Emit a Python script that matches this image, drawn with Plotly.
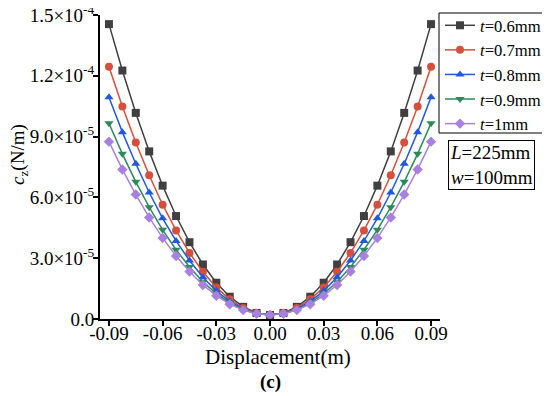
import plotly.graph_objects as go

# Displacement (m)
x_vals = [-0.09, -0.0825, -0.075, -0.0675, -0.06, -0.0525, -0.045, -0.0375, -0.03, -0.0225, -0.015, -0.0075,
          0.0, 0.0075, 0.015, 0.0225, 0.03, 0.0375, 0.045, 0.0525, 0.06, 0.0675, 0.075, 0.0825, 0.09]

# c_z values in units of 1e-5 N/m (one half, mirrored below)
half_06 = [14.55, 12.26, 10.17, 8.27, 6.58, 5.08, 3.79, 2.69, 1.79, 1.10, 0.60, 0.30, 0.20]
half_07 = [12.45, 10.49, 8.71, 7.09, 5.64, 4.37, 3.26, 2.33, 1.56, 0.97, 0.54, 0.29, 0.20]
half_08 = [10.94, 9.22, 7.66, 6.24, 4.97, 3.85, 2.89, 2.06, 1.39, 0.87, 0.50, 0.27, 0.20]
half_09 = [9.66, 8.15, 6.77, 5.52, 4.40, 3.42, 2.57, 1.84, 1.25, 0.79, 0.46, 0.27, 0.20]
half_10 = [8.75, 7.38, 6.14, 5.01, 4.00, 3.11, 2.34, 1.68, 1.15, 0.73, 0.44, 0.26, 0.20]

series_names = ["<i>t</i>=0.6mm", "<i>t</i>=0.7mm", "<i>t</i>=0.8mm", "<i>t</i>=0.9mm", "<i>t</i>=1mm"]
halves = [half_06, half_07, half_08, half_09, half_10]
colors = ["#404040", "#d4503c", "#2058e0", "#2a8a5a", "#a880e0"]
symbols = ["square", "circle", "triangle-up", "triangle-down", "diamond"]

y_tickvals = [0, 3e-5, 6e-5, 9e-5, 1.2e-4, 1.5e-4]
y_ticktext = ["0.0", "3.0×10<sup>-5</sup>", "6.0×10<sup>-5</sup>", "9.0×10<sup>-5</sup>",
              "1.2×10<sup>-4</sup>", "1.5×10<sup>-4</sup>"]
x_tickvals = [-0.09, -0.06, -0.03, 0.0, 0.03, 0.06, 0.09]
x_ticktext = ["-0.09", "-0.06", "-0.03", "0.00", "0.03", "0.06", "0.09"]

FONT = "Liberation Serif"
FS = 19

# plot area in figure pixels (page shows figure offset by 8px)
PL, PR, PT, PB = 92, 432, 7, 311
W, H = 550, 396


def px(xp):
    return (xp - PL) / (PR - PL)


def py(yp):
    return (PB - yp) / (PB - PT)


fig = go.Figure()
for name, half, col, sym in zip(series_names, halves, colors, symbols):
    full = half + half[-2::-1]
    yv = [v * 1e-5 for v in full]
    fig.add_trace(go.Scatter(
        x=x_vals, y=yv, mode="lines+markers", name=name,
        line=dict(color=col, width=1.5),
        marker=dict(symbol=sym, size=8, color=col),
    ))

fig.update_layout(
    template="none",
    width=W, height=H,
    margin=dict(l=PL, r=W - PR, t=PT, b=H - PB, autoexpand=False),
    paper_bgcolor="white", plot_bgcolor="white",
    font=dict(family=FONT, size=FS, color="black"),
    showlegend=True,
    legend=dict(
        xref="container", yref="container",
        x=538 / W, y=1 + 4 / H, xanchor="right", yanchor="top",
        borderwidth=0, bgcolor="rgba(0,0,0,0)",
        font=dict(family=FONT, size=16.6), tracegroupgap=0,
        itemwidth=30,
    ),
    xaxis=dict(
        range=[-0.095, 0.095], tickvals=x_tickvals, ticktext=x_ticktext,
        showgrid=False, zeroline=False, showline=True, linecolor="black", linewidth=2,
        ticks="outside", ticklen=5, tickwidth=1.5, tickcolor="black",
        tickfont=dict(family=FONT, size=FS), automargin=False, ticklabelstandoff=-9,
        ticklabeloverflow="allow",
    ),
    yaxis=dict(
        range=[0, 1.5e-4], tickvals=y_tickvals, ticktext=y_ticktext,
        showgrid=False, zeroline=False, showline=True, linecolor="black", linewidth=2,
        ticks="outside", ticklen=5, tickwidth=1.5, tickcolor="black",
        tickfont=dict(family=FONT, size=FS), automargin=False, ticklabelstandoff=-5,
        ticklabeloverflow="allow",
    ),
)

# legend frame
fig.add_shape(
    type="rect", xref="paper", yref="paper", layer="above",
    x0=px(431), x1=px(538), y0=py(125), y1=py(5),
    line=dict(color="black", width=1), fillcolor="rgba(255,255,255,0)",
)

# axis titles as annotations for precise placement
fig.add_annotation(
    xref="paper", yref="paper", x=px(11), y=py(147),
    xanchor="center", yanchor="middle", textangle=-90,
    text="<i>c</i><sub>z</sub>(N/m)", showarrow=False, font=dict(family=FONT, size=FS),
)
fig.add_annotation(
    xref="paper", yref="paper", x=px(270), y=py(349),
    xanchor="center", yanchor="middle",
    text="Displacement(m)", showarrow=False, font=dict(family=FONT, size=21),
)
fig.add_annotation(
    xref="paper", yref="paper", x=px(262), y=py(374),
    xanchor="center", yanchor="middle",
    text="<b>(c)</b>", showarrow=False, font=dict(family=FONT, size=FS),
)
fig.add_annotation(
    xref="paper", yref="paper", x=px(440), y=py(132),
    xanchor="left", yanchor="top",
    text="<i>L</i>=225mm<br><i>w</i>=100mm", showarrow=False, align="left",
    bordercolor="black", borderwidth=1, borderpad=1, bgcolor="white",
    font=dict(family=FONT, size=FS),
)

fig.write_html("out.html")
